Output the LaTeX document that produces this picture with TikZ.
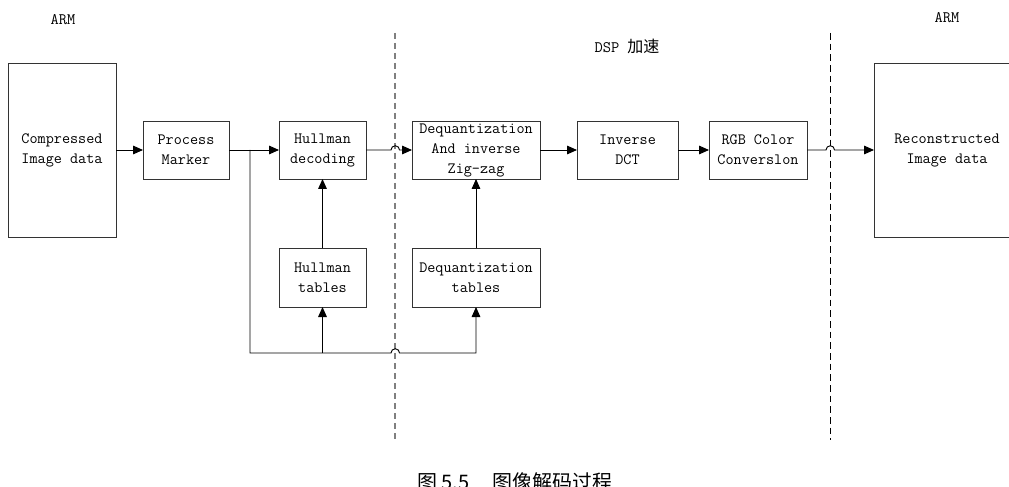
\documentclass[tikz,border=0pt]{standalone}
\usepackage{fontspec}
\usepackage{xcolor}
\usepackage{tikz}
\usetikzlibrary{positioning, arrows.meta, calc}
\newfontfamily\cjk{Noto Sans CJK SC}
\definecolor{guide}{HTML}{808080}
\definecolor{edge}{HTML}{333333}

\begin{document}
\begin{tikzpicture}[x=0.75pt,y=0.75pt,>={Triangle[length=7.5pt,width=6.5pt]},
  blk/.style={draw=edge,line width=0.7pt,inner sep=0pt,outer sep=0pt,align=center,
              font=\ttfamily\fontsize{11.8}{15}\selectfont},
  lbl/.style={font=\ttfamily\fontsize{12}{14}\selectfont},
  flow/.style={->,line width=0.7pt},
  wire/.style={line width=0.7pt}]
  \useasboundingbox (0,0) rectangle (1009,486);
  \node[blk,minimum width=81pt,minimum height=130.5pt] (cmp) at (62,336) {Compressed\\Image data};
  \node[blk,minimum width=64.5pt,minimum height=43.5pt,right=20.25pt of cmp] (pm) {Process\\Marker};
  \node[blk,minimum width=65.25pt,minimum height=43.5pt,right=37.5pt of pm] (hd) {Hullman\\decoding};
  \node[blk,minimum width=96pt,minimum height=43.5pt,right=34.5pt of hd] (dq) {Dequantization\\And inverse\\Zig-zag};
  \node[blk,minimum width=75.75pt,minimum height=43.5pt,right=27.75pt of dq] (inv) {Inverse\\DCT};
  \node[blk,minimum width=73.5pt,minimum height=43.5pt,right=23.25pt of inv] (rgb) {RGB Color\\Converslon};
  \node[blk,minimum width=109.5pt,minimum height=130.5pt,right=50.25pt of rgb] (rec) {Reconstructed\\Image data};
  \node[blk,minimum width=65.25pt,minimum height=44.25pt,below=51.75pt of hd] (ht) {Hullman\\tables};
  \node[blk,minimum width=96pt,minimum height=44.25pt,below=51.75pt of dq] (dt) {Dequantization\\tables};
  \node[lbl] (armL) at (63,466) {ARM};
  \node[lbl] (armR) at (947,468) {ARM};
  \node[lbl] (dsp) at (627,440) {DSP {\cjk 加速}};
  \node[anchor=base west,font=\cjk\fontsize{15}{18}\selectfont] (cap) at (413,-3)
    {图\hspace{3pt}5.5\hspace{17pt}图像解码过程};
  \draw[guide,line width=0.8pt,dash pattern=on 4.5pt off 3pt] (395,453) -- (395,45);
  \draw[black,line width=0.6pt,dash pattern=on 5pt off 3pt] (830,453) -- (830,46);
  \coordinate (br) at (250,336);
  \coordinate (bot) at (250,133);
  \draw[flow] (cmp) -- (pm);
  \draw[flow] (pm) -- (hd);
  \draw[flow] (hd) -- (391,336) arc[start angle=180,end angle=0,radius=3.2pt] -- (dq);
  \draw[flow] (dq) -- (inv);
  \draw[flow] (inv) -- (rgb);
  \draw[flow] (rgb) -- (826,336) arc[start angle=180,end angle=0,radius=3.2pt] -- (rec);
  \draw[flow] (ht) -- (hd);
  \draw[flow] (dt) -- (dq);
  \draw[flow] (br) -- (bot) -- (391,133) arc[start angle=180,end angle=0,radius=3.2pt]
    -- (dt.south |- bot) -- (dt.south);
  \draw[flow] (ht.south |- bot) -- (ht.south);
\end{tikzpicture}
\end{document}
